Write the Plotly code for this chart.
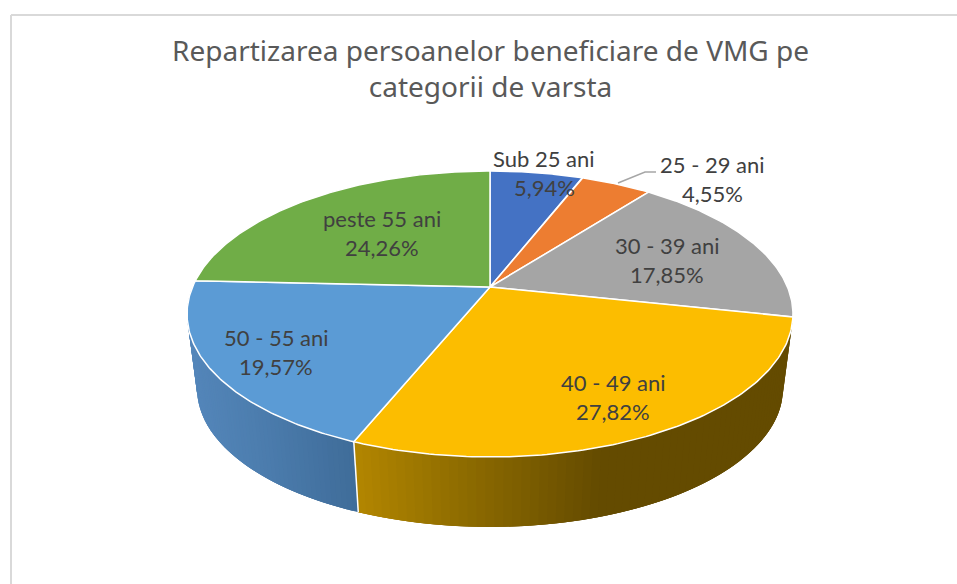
import numpy as np
import plotly.graph_objects as go

categories = ["Sub 25 ani", "25 - 29 ani", "30 - 39 ani", "40 - 49 ani", "50 - 55 ani", "peste 55 ani"]
values = [5.94, 4.55, 17.85, 27.82, 19.57, 24.26]
value_labels = ["5,94%", "4,55%", "17,85%", "27,82%", "19,57%", "24,26%"]
colors = ["#4472C4", "#ED7D31", "#A5A5A5", "#FCBD00", "#5B9BD5", "#70AD47"]
title_lines = "Repartizarea persoanelor beneficiare de VMG pe<br>categorii de varsta"

# Label centres in page pixels (name line, value line is 29 px lower)
label_centres = [(544, 158.5), (712, 164.5), (667, 245.5), (613, 382.5), (276, 337.5), (382, 218.5)]

# Perspective model of the tilted disc
CX, CY, A, B, K = 490.0, 287.0, 297.5, 137.9, 0.1888
BOTTOM_SCALE, BOTTOM_CY = 0.967, 362.6


def ring(t, bottom=False):
    t = np.asarray(t, dtype=float)
    X, Y = np.sin(t), np.cos(t)
    d = 1 + K * Y
    s = BOTTOM_SCALE if bottom else 1.0
    cy = BOTTOM_CY if bottom else CY
    return CX + s * A * X / d, cy - s * B * Y / d


def lerp_colour(x, stops):
    xs = [p[0] for p in stops]
    rgb = [float(np.interp(x, xs, [p[1][i] for p in stops])) for i in range(3)]
    return "rgb(%d,%d,%d)" % tuple(round(c) for c in rgb)


wall_shades = {
    3: [(358, (178, 134, 0)), (470, (140, 106, 0)), (600, (100, 75, 0)), (800, (100, 75, 0))],
    4: [(190, (84, 134, 186)), (260, (76, 125, 174)), (357, (63, 108, 153))],
}

total = sum(values)
edges = 2 * np.pi * np.concatenate([[0], np.cumsum(values)]) / total

fig = go.Figure()

# Side wall: strips shaded by horizontal position, each overlapping the next ones
# so that no background shows through the joins
STRIPS, OVERLAP = 70, 3
for idx, shades in wall_shades.items():
    t0, t1 = edges[idx], edges[idx + 1]
    grid = np.linspace(t0, t1, STRIPS + 1)
    for j in range(STRIPS):
        a, b = grid[j], grid[min(j + OVERLAP, STRIPS)]
        ts = np.linspace(a, b, 8)
        xt, yt = ring(ts)
        xb, yb = ring(ts[::-1], bottom=True)
        xmid = float((ring(grid[j])[0] + ring(grid[j + 1])[0] + ring(grid[j], True)[0] + ring(grid[j + 1], True)[0]) / 4)
        c = lerp_colour(xmid, shades)
        fig.add_trace(go.Scatter(
            x=np.concatenate([xt, xb, xt[:1]]), y=np.concatenate([yt, yb, yt[:1]]),
            mode="lines", fill="toself", fillcolor=c, line=dict(width=0),
            hoverinfo="skip", showlegend=False))

# White seam between the two visible wall segments
seam_x0, seam_y0 = ring(edges[4])
seam_x1, seam_y1 = ring(edges[4], bottom=True)
fig.add_trace(go.Scatter(x=[seam_x0, seam_x1], y=[seam_y0, seam_y1], mode="lines",
                         line=dict(color="white", width=1.5), hoverinfo="skip", showlegend=False))

# Top face wedges
for i, name in enumerate(categories):
    ts = np.linspace(edges[i], edges[i + 1], 120)
    x, y = ring(ts)
    fig.add_trace(go.Scatter(
        x=np.concatenate([[CX], x, [CX]]), y=np.concatenate([[CY], y, [CY]]),
        mode="lines", fill="toself", fillcolor=colors[i], line=dict(color="white", width=1.5),
        name=name, hoverinfo="skip", showlegend=False))

# Leader line for the 25 - 29 label
fig.add_trace(go.Scatter(x=[618, 645, 656], y=[183, 172, 172], mode="lines",
                         line=dict(color="#A6A6A6", width=1.5), hoverinfo="skip", showlegend=False))

annotations = []
for (cx, cy), name, val in zip(label_centres, categories, value_labels):
    for text, yy in ((name, cy), (val, cy + 29)):
        annotations.append(dict(x=cx, y=yy, xref="x", yref="y", text=text, showarrow=False,
                                xanchor="center", yanchor="middle",
                                font=dict(family="Lato", size=22, color="#404040")))
annotations.append(dict(x=490, y=68, xref="x", yref="y", text=title_lines, showarrow=False,
                        xanchor="center", yanchor="middle", align="center",
                        font=dict(family="Noto Sans", size=28, color="#595959")))

fig.update_layout(
    width=957, height=584, margin=dict(l=0, r=0, t=0, b=0),
    paper_bgcolor="white", plot_bgcolor="white",
    xaxis=dict(range=[0, 957], visible=False, fixedrange=True),
    yaxis=dict(range=[584, 0], visible=False, fixedrange=True),
    annotations=annotations,
    shapes=[
        dict(type="line", xref="x", yref="y", x0=11, y0=15, x1=957, y1=15, line=dict(color="#D9D9D9", width=2)),
        dict(type="line", xref="x", yref="y", x0=11, y0=15, x1=11, y1=584, line=dict(color="#D9D9D9", width=2)),
    ],
)

fig.write_html("out.html", config={"displayModeBar": False},
               post_script="document.body.style.margin='0';document.body.style.overflow='hidden';")
